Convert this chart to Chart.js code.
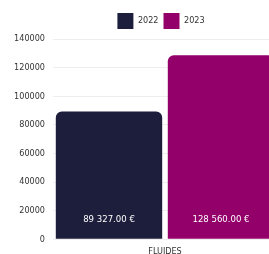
<!DOCTYPE html>
<html>
<head>
<meta charset="utf-8">
<script src="https://cdn.jsdelivr.net/npm/chart.js@4"></script>
<style>
  html, body { margin: 0; padding: 0; background: #fff; overflow: hidden; }
  #wrap { width: 322px; height: 264px; position: relative; }
</style>
</head>
<body>
<div id="wrap"><canvas id="c"></canvas></div>
<script>
const categories = ['FLUIDES'];
const seriesNames = ['2022', '2023'];
const values2022 = [89327.00];
const values2023 = [128560.00];
const yTicks = [0, 20000, 40000, 60000, 80000, 100000, 120000, 140000];

const FONT = '"Liberation Sans Narrow", "DejaVu Sans Condensed", sans-serif';

function fmtEuro(v) {
  const parts = v.toFixed(2).split('.');
  parts[0] = parts[0].replace(/\B(?=(\d{3})+(?!\d))/g, ' ');
  return parts[0] + '.' + parts[1] + ' €';
}

const valueLabels = {
  id: 'valueLabels',
  afterDatasetsDraw(chart) {
    const ctx = chart.ctx;
    const yScale = chart.scales.y;
    const base = yScale.getPixelForValue(0);
    ctx.save();
    ctx.fillStyle = '#ffffff';
    ctx.font = '9.5px ' + FONT;
    ctx.textAlign = 'center';
    ctx.textBaseline = 'middle';
    chart.data.datasets.forEach((ds, i) => {
      const meta = chart.getDatasetMeta(i);
      meta.data.forEach((el, j) => {
        ctx.fillText(fmtEuro(ds.data[j]), el.x, base - 20);
      });
    });
    ctx.restore();
  }
};

new Chart(document.getElementById('c'), {
  type: 'bar',
  data: {
    labels: categories,
    datasets: [
      { label: seriesNames[0], data: values2022, backgroundColor: '#1d1e3c', borderRadius: 6 },
      { label: seriesNames[1], data: values2023, backgroundColor: '#93006a', borderRadius: 6 }
    ]
  },
  options: {
    responsive: true,
    maintainAspectRatio: false,
    animation: false,
    layout: { padding: { left: 0, right: 0, top: 8, bottom: 0 } },
    datasets: { bar: { categoryPercentage: 1.0, barPercentage: 0.95 } },
    plugins: {
      legend: {
        position: 'top',
        labels: {
          boxWidth: 16, boxHeight: 16, padding: 5,
          color: '#333', font: { family: FONT, size: 9 }
        }
      },
      tooltip: { enabled: false }
    },
    scales: {
      x: {
        grid: { display: false, drawTicks: false },
        border: { display: false },
        ticks: { color: '#333', font: { family: FONT, size: 9 }, padding: 7 }
      },
      y: {
        min: 0, max: 140000,
        afterFit(s) { s.width = 53; },
        afterBuildTicks(s) { s.ticks = yTicks.map(v => ({ value: v })); },
        grid: { color: '#eeeeee', drawTicks: false },
        border: { display: false },
        ticks: {
          color: '#333', font: { family: FONT, size: 9 }, padding: 8,
          callback: v => String(v)
        }
      },
      yRight: {
        position: 'right',
        min: 0, max: 1,
        afterFit(s) { s.width = 45; },
        grid: { display: false, drawTicks: false },
        border: { display: false },
        ticks: { display: false }
      }
    }
  },
  plugins: [valueLabels]
});
</script>
</body>
</html>
